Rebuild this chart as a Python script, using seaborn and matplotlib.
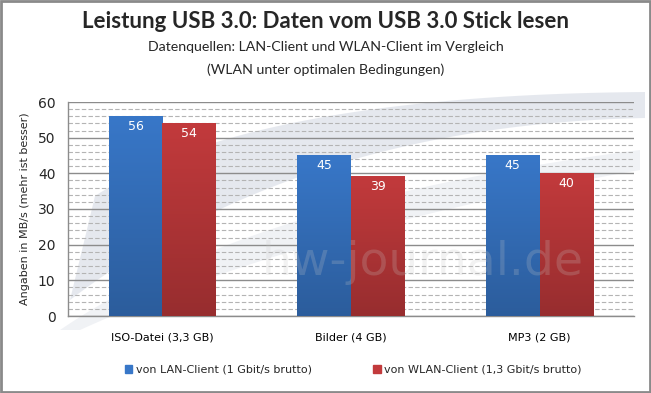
import matplotlib
matplotlib.use("Agg")
import matplotlib.pyplot as plt
import seaborn as sns
import pandas as pd
import numpy as np
from matplotlib.ticker import MultipleLocator, FixedLocator
from matplotlib.patches import Rectangle, Polygon

categories = ["ISO-Datei (3,3 GB)", "Bilder (4 GB)", "MP3 (2 GB)"]
series = ["von LAN-Client (1 Gbit/s brutto)", "von WLAN-Client (1,3 Gbit/s brutto)"]
lan_values = [56, 45, 45]
wlan_values = [54, 39, 40]
colors = ["#3877c8", "#c23a3c"]

title = "Leistung USB 3.0: Daten vom USB 3.0 Stick lesen"
subtitle1 = "Datenquellen: LAN-Client und WLAN-Client im Vergleich"
subtitle2 = "(WLAN unter optimalen Bedingungen)"
ylabel = "Angaben in MB/s (mehr ist besser)"

df = pd.DataFrame({
    "Kategorie": categories * 2,
    "Serie": [series[0]] * 3 + [series[1]] * 3,
    "Wert": lan_values + wlan_values,
})

sns.set_style("white")
plt.rcParams["font.family"] = ["DejaVu Sans"]

W, H = 651, 393
fig = plt.figure(figsize=(6.51, 3.93), dpi=100)
ax = fig.add_axes([68/W, 1-316/H, (634-68)/W, (316-102)/H])

sns.barplot(data=df, x="Kategorie", y="Wert", hue="Serie", palette=colors,
            width=0.57, ax=ax, legend=False, saturation=1, zorder=3, linewidth=0)

ax.set_ylim(0, 60)
ax.set_xlim(-0.5, 2.5)
ax.yaxis.set_major_locator(MultipleLocator(10))
ax.yaxis.set_minor_locator(MultipleLocator(2))
ax.grid(which="major", axis="y", color="#8c8c8c", linewidth=1, zorder=0)
ax.grid(which="minor", axis="y", color="#b4b4b4", linewidth=0.8, linestyle=(0, (4, 2)), zorder=0)
ax.set_axisbelow(True)

ax.xaxis.set_minor_locator(FixedLocator([0.5, 1.5, 2.5]))
ax.tick_params(axis="x", which="major", length=0, pad=12, labelsize=8, colors="#000000")
ax.tick_params(axis="x", which="minor", length=5, color="#8c8c8c", width=1)
ax.tick_params(axis="y", which="major", length=5, color="#8c8c8c", width=1, labelsize=10, pad=4)
ax.tick_params(axis="y", which="minor", length=0)
for s in ["top", "right"]:
    ax.spines[s].set_visible(False)
for s in ["left", "bottom"]:
    ax.spines[s].set_color("#8c8c8c")
    ax.spines[s].set_linewidth(1)
ax.set_xlabel("")
ax.set_ylabel(ylabel, fontsize=8, labelpad=6)

# gradient shading on bars + labels
for patch in ax.patches:
    h = patch.get_height()
    if h <= 0:
        continue
    x0 = patch.get_x(); w = patch.get_width()
    col = np.array(matplotlib.colors.to_rgb(patch.get_facecolor()))
    grad = np.linspace(1.0, 0.78, 64)[:, None, None] * col[None, None, :]
    ax.imshow(grad, extent=[x0, x0 + w, 0, h], aspect="auto", origin="upper",
              zorder=3.5, interpolation="bicubic")
    ax.text(x0 + w/2, h - 2.8, f"{int(round(h))}", ha="center", va="center",
            color="white", fontsize=9, zorder=5)
ax.set_xlim(-0.5, 2.5)
ax.set_ylim(0, 60)

# decorative swoosh behind the chart (pixel coordinates -> figure fraction)
def bez(p0, p1, p2, n=60):
    t = np.linspace(0, 1, n)[:, None]
    return (1-t)**2*np.array(p0) + 2*(1-t)*t*np.array(p1) + t**2*np.array(p2)
top = bez((95, 196), (250, 95), (645, 92))
bot = bez((645, 118), (300, 125), (70, 300))
pts = np.vstack([top, bot])
pts = np.column_stack([pts[:, 0]/W, 1 - pts[:, 1]/H])
fig.patches.append(Polygon(pts, closed=True, transform=fig.transFigure,
                           facecolor="#d5dae4", edgecolor="none", alpha=0.6, zorder=-1))
top2 = bez((60, 330), (250, 200), (640, 150))
bot2 = bez((640, 170), (300, 230), (80, 330))
pts2 = np.vstack([top2, bot2])
pts2 = np.column_stack([pts2[:, 0]/W, 1 - pts2[:, 1]/H])
fig.patches.append(Polygon(pts2, closed=True, transform=fig.transFigure,
                           facecolor="#d5dae4", edgecolor="none", alpha=0.35, zorder=-1))
ax.patch.set_alpha(0)

# watermark
ax.text(1.38, 15, "hw-journal.de", fontsize=34, color="#c8c8c8", alpha=0.22,
        ha="center", va="center", zorder=4)

fig.text(0.5, 1-22/H, title, ha="center", va="center", fontsize=16,
         fontweight="bold", family=["Lato", "DejaVu Sans"])
fig.text(0.5, 1-47/H, subtitle1, ha="center", va="center", fontsize=10.2,
         family=["Lato", "DejaVu Sans"])
fig.text(0.5, 1-70/H, subtitle2, ha="center", va="center", fontsize=10.2,
         family=["Lato", "DejaVu Sans"])

# legend
handles = [Rectangle((0, 0), 1, 1, color=c) for c in colors]
fig.legend(handles, series, loc="center", bbox_to_anchor=(353/W, 1-370/H), ncol=2,
           frameon=False, fontsize=8, handlelength=0.7, handleheight=0.7,
           handletextpad=0.3, columnspacing=5.5)

# frame
fig.patches.append(Rectangle((0.0015, 0.003), 0.997, 0.994, transform=fig.transFigure,
                             fill=False, edgecolor="#8a8a8a", linewidth=2))

fig.savefig("out.png", dpi=100)
